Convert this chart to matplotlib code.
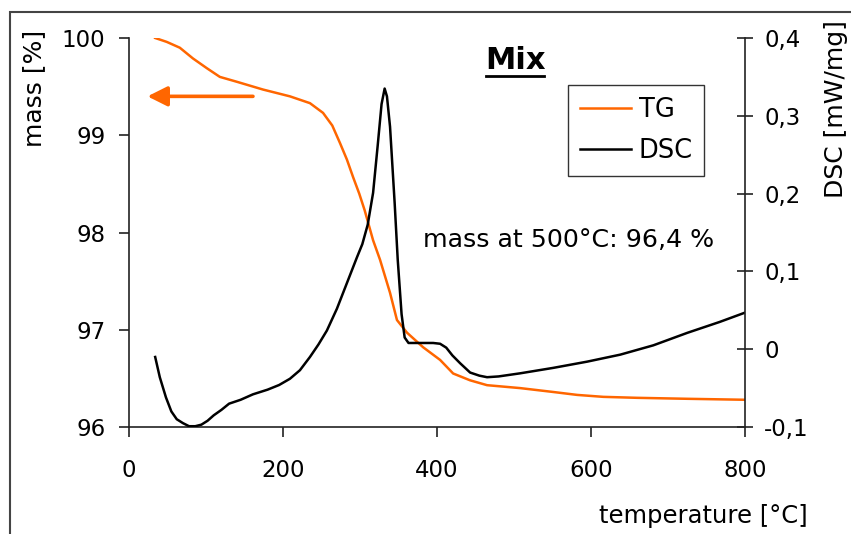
import matplotlib
matplotlib.use("Agg")
import matplotlib.pyplot as plt
from matplotlib.patches import Rectangle
from matplotlib.lines import Line2D

plt.rcParams['font.family'] = ['DejaVu Sans']

# TG data (temperature °C, mass %)
tg_temp = [34, 49, 66, 83, 101, 118, 140, 174, 209, 235, 252, 264, 274, 283, 291, 299, 306,
           317, 326, 339, 348, 361, 382, 404, 421, 443, 465, 508, 551, 582, 616, 660, 725, 800]
tg_mass = [100.0, 99.96, 99.90, 99.79, 99.69, 99.60, 99.55, 99.47, 99.40, 99.33, 99.23,
           99.10, 98.92, 98.75, 98.57, 98.40, 98.23, 97.92, 97.72, 97.38, 97.10, 96.97, 96.82,
           96.69, 96.55, 96.48, 96.43, 96.40, 96.36, 96.33, 96.31, 96.30, 96.29, 96.28]

# DSC data (temperature °C, mW/mg)
dsc_temp = [34, 40, 48, 55, 62, 70, 78, 86, 94, 102, 110, 120, 130, 145, 161, 180, 195, 209, 222,
            235, 246, 257, 270, 283, 296, 303, 310, 317, 323, 328, 332, 335, 339, 345, 349, 354,
            358, 363, 368, 380, 395, 404, 412, 420, 430, 443, 455, 465, 480, 508, 551, 595, 638,
            681, 725, 767, 800]
dsc_val = [-0.010, -0.036, -0.062, -0.080, -0.090, -0.095, -0.099, -0.099, -0.097, -0.092, -0.085,
           -0.078, -0.070, -0.065, -0.058, -0.052, -0.046, -0.038, -0.027, -0.010, 0.006, 0.024,
           0.052, 0.085, 0.118, 0.135, 0.160, 0.201, 0.262, 0.315, 0.335, 0.325, 0.286, 0.188,
           0.115, 0.045, 0.015, 0.008, 0.008, 0.008, 0.008, 0.007, 0.002, -0.008, -0.018, -0.030,
           -0.034, -0.036, -0.035, -0.031, -0.024, -0.016, -0.007, 0.005, 0.021, 0.035, 0.047]

x_ticks = [0, 200, 400, 600, 800]
y_ticks = [96, 97, 98, 99, 100]
y2_ticks = [-0.1, 0, 0.1, 0.2, 0.3, 0.4]
y2_labels = ['-0,1', '0', '0,1', '0,2', '0,3', '0,4']

ORANGE = '#FF6600'
FS = 16.5
FL = 18

fig = plt.figure(figsize=(8.51, 5.34), dpi=100)
ax = fig.add_axes([129/851, 1-427/534, (745-129)/851, (427-38)/534])
ax2 = ax.twinx()

l1, = ax.plot(tg_temp, tg_mass, color=ORANGE, lw=1.8, label='TG')
l2, = ax2.plot(dsc_temp, dsc_val, color='black', lw=1.8, label='DSC')

ax.set_xlim(0, 800)
ax.set_ylim(96, 100)
ax2.set_ylim(-0.1, 0.4)
ax.set_xticks(x_ticks)
ax.set_yticks(y_ticks)
ax2.set_yticks(y2_ticks)
ax2.set_yticklabels(y2_labels)

for a in (ax, ax2):
    a.spines['top'].set_visible(False)
    for s in a.spines.values():
        s.set_color('#222222')
        s.set_linewidth(1.2)
ax.spines['right'].set_visible(False)
ax2.spines['left'].set_visible(False)
ax2.spines['bottom'].set_visible(False)

ax.tick_params(axis='both', direction='out', length=7, width=1.2, labelsize=FS, color='#222222')
ax.tick_params(axis='y', pad=10)
ax.tick_params(axis='x', pad=16)
ax2.tick_params(axis='y', direction='inout', length=11.5, width=1.2, labelsize=FS, pad=8,
                color='#222222')

fig.text(34/851, 1-30/534, 'mass [%]', fontsize=FL, rotation=90, ha='center', va='top')
fig.text(836/851, 1-109/534, 'DSC [mW/mg]', fontsize=FL, rotation=90, ha='center', va='center')
fig.text(808/851, 1-516/534, 'temperature [°C]', fontsize=17.5, ha='right', va='center')

leg = ax.legend([l1, l2], ['TG', 'DSC'], loc='upper left', bbox_to_anchor=(568/851, 1-85/534),
                bbox_transform=fig.transFigure, fontsize=18.5, frameon=True, fancybox=False,
                edgecolor='black', handlelength=2.0, handletextpad=0.3, borderpad=0.45,
                labelspacing=0.6, borderaxespad=0)
leg.get_frame().set_linewidth(1.0)

ax.annotate('', xy=(24, 99.40), xytext=(161, 99.40),
            arrowprops=dict(arrowstyle='-|>,head_length=0.6,head_width=0.3', color=ORANGE,
                            lw=2.6, mutation_scale=20, shrinkA=0, shrinkB=0))

fig.text(515/851, 1-61/534, 'Mix', fontsize=22, fontweight='bold', ha='center', va='center')
fig.add_artist(Line2D([486/851, 544/851], [1-76/534, 1-76/534], color='black', lw=2))

fig.text(423/851, 1-240/534, 'mass at 500°C: 96,4 %', fontsize=18.2, ha='left', va='center')

fig.add_artist(Rectangle((10/851, -0.1), 1.2, 1.1 - 12/534, transform=fig.transFigure,
                         fill=False, edgecolor='#444444', lw=1.5))

fig.savefig('out.png', dpi=100)
